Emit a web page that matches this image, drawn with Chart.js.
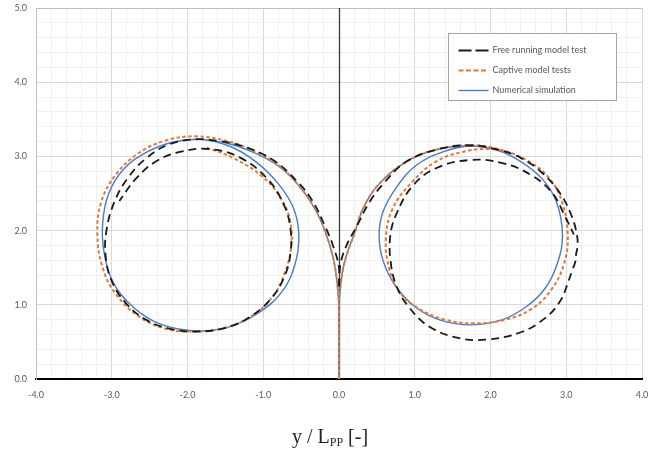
<!DOCTYPE html>
<html>
<head>
<meta charset="utf-8">
<script src="https://cdn.jsdelivr.net/npm/chart.js@4.4.1/dist/chart.umd.min.js"></script>
<style>
    html, body { margin: 0; padding: 0; background: #fff; }
    #wrap { position: relative; width: 651px; height: 456px; }
    #title {
        position: absolute; left: 0; top: 424px; width: 660px; text-align: center;
        font-family: 'Liberation Serif', 'DejaVu Serif', serif; font-size: 20px; line-height: 24px; color: #222;
    }
    #title sub { font-size: 12px; line-height: 0; vertical-align: -3px; }
</style>
</head>
<body>
<div id="wrap">
    <canvas id="turnGraph" width="651" height="456"></canvas>
    <div id="title">y / L<sub>PP</sub> [-]</div>
</div>
<script>
//globals
const seriesNames = ['Free running model test', 'Captive model tests', 'Numerical simulation'];

//free running, port turn
const freeLeftX = [0, 0, -0.08, -0.18, -0.35, -0.55, -0.87, -1.25, -1.6, -1.9, -2.25, -2.55, -2.78, -2.96, -3.07, -3.08, -3.0, -2.82, -2.55, -2.2, -1.85, -1.5, -1.17, -0.9, -0.72, -0.64, -0.64, -0.72, -0.93, -1.3, -1.72, -2.1, -2.42, -2.68, -2.9];
const freeLeftY = [1.25, 1.5, 1.8, 2.05, 2.4, 2.66, 2.95, 3.13, 3.21, 3.23, 3.16, 2.97, 2.72, 2.4, 2.0, 1.65, 1.32, 1.03, 0.8, 0.67, 0.64, 0.69, 0.84, 1.08, 1.38, 1.7, 2.02, 2.33, 2.68, 2.98, 3.1, 3.06, 2.93, 2.7, 2.4];
//free running, starboard turn
const freeRightX = [0, 0.02, 0.1, 0.23, 0.4, 0.6, 0.89, 1.28, 1.72, 2.1, 2.4, 2.68, 2.92, 3.07, 3.14, 3.15, 3.13, 3.12, 3.08, 3.03, 2.92, 2.72, 2.4, 1.94, 1.59, 1.2, 0.93, 0.76, 0.68, 0.68, 0.76, 0.97, 1.28, 1.72, 2.16, 2.55, 2.82, 2.98, 3.1];
const freeRightY = [1.25, 1.55, 1.8, 2.05, 2.38, 2.65, 2.93, 3.09, 3.15, 3.09, 2.98, 2.78, 2.5, 2.2, 1.95, 1.8, 1.68, 1.58, 1.47, 1.32, 1.05, 0.82, 0.63, 0.53, 0.55, 0.7, 0.96, 1.25, 1.6, 1.95, 2.23, 2.6, 2.84, 2.95, 2.91, 2.74, 2.5, 2.2, 1.95];

//captive tests
const captLeftX = [0, 0, 0, -0.02, -0.07, -0.17, -0.32, -0.55, -0.8, -1.1, -1.45, -1.9, -2.3, -2.65, -2.95, -3.14, -3.19, -3.12, -2.95, -2.65, -2.3, -1.95, -1.55, -1.2, -0.9, -0.72, -0.63, -0.65, -0.76, -1.0, -1.4, -1.75];
const captLeftY = [0, 0.5, 0.95, 1.25, 1.6, 1.95, 2.3, 2.63, 2.88, 3.06, 3.2, 3.27, 3.21, 3.04, 2.75, 2.38, 1.95, 1.5, 1.15, 0.85, 0.68, 0.64, 0.68, 0.82, 1.08, 1.42, 1.8, 2.15, 2.42, 2.72, 2.98, 3.12];
const captRightX = [0, 0, 0, 0.02, 0.08, 0.2, 0.32, 0.53, 0.89, 1.28, 1.72, 2.1, 2.51, 2.78, 2.94, 3.02, 2.97, 2.8, 2.55, 2.2, 1.78, 1.4, 1.05, 0.8, 0.66, 0.62, 0.71, 0.97, 1.28, 1.63, 1.99, 2.25];
const captRightY = [0, 0.5, 0.95, 1.25, 1.6, 1.95, 2.3, 2.63, 2.93, 3.09, 3.15, 3.1, 2.93, 2.7, 2.4, 1.95, 1.55, 1.2, 0.95, 0.8, 0.75, 0.8, 0.95, 1.17, 1.5, 1.9, 2.3, 2.66, 2.93, 3.06, 3.1, 3.05];

//numerical simulation
const simLeftX = [0, 0, 0, -0.02, -0.07, -0.17, -0.32, -0.55, -0.8, -1.1, -1.45, -1.84, -2.2, -2.55, -2.85, -3.04, -3.12, -3.1, -2.98, -2.75, -2.45, -2.1, -1.75, -1.4, -1.05, -0.75, -0.58, -0.53, -0.6, -0.8, -1.1, -1.45, -1.84, -2.1];
const simLeftY = [0, 0.5, 0.95, 1.25, 1.6, 1.95, 2.3, 2.63, 2.87, 3.04, 3.17, 3.23, 3.19, 3.05, 2.82, 2.5, 2.1, 1.7, 1.3, 1.0, 0.78, 0.67, 0.65, 0.72, 0.9, 1.18, 1.55, 1.94, 2.3, 2.63, 2.93, 3.14, 3.23, 3.21];
const simRightX = [0, 0, 0, 0.02, 0.08, 0.2, 0.32, 0.53, 0.89, 1.28, 1.72, 2.1, 2.4, 2.68, 2.87, 2.95, 2.88, 2.72, 2.48, 2.16, 1.75, 1.35, 1.02, 0.75, 0.58, 0.53, 0.58, 0.75, 1.02, 1.37, 1.72, 2.0];
const simRightY = [0, 0.5, 0.95, 1.25, 1.6, 1.95, 2.3, 2.63, 2.93, 3.09, 3.14, 3.08, 2.93, 2.7, 2.39, 1.94, 1.55, 1.22, 0.98, 0.8, 0.73, 0.79, 0.96, 1.25, 1.6, 1.94, 2.25, 2.57, 2.88, 3.06, 3.14, 3.11];

//axes
const xMin = -4, xMax = 4;
const yMin = 0, yMax = 5;
const minorStep = 0.2;

//styles per series
const styles = [
    { color: '#1a1a1a', width: 1.8, dash: [8, 5], legendDash: [13, 4] },
    { color: '#e07a3a', width: 2, dash: [3.5, 2.5], legendDash: [5, 2.5] },
    { color: '#4a7cc4', width: 1.4, dash: [], legendDash: [] }
];

document.addEventListener('DOMContentLoaded', () => {
    createGraph();
});

function toPoints(xs, ys) {
    return xs.map((x, i) => ({ x: x, y: ys[i] }));
}

function isMajor(v) {
    return Math.abs(v - Math.round(v)) < 1e-6;
}

function isZero(v) {
    return Math.abs(v) < 1e-6;
}

function makeDataset(series, xs, ys) {
    const s = styles[series];
    return {
        label: seriesNames[series],
        data: toPoints(xs, ys),
        showLine: true,
        borderColor: s.color,
        borderWidth: s.width,
        borderDash: s.dash,
        pointRadius: 0,
        tension: 0.4,
        fill: false
    };
}

//vertical axis line through x = 0, drawn over the grid
const zeroLine = {
    id: 'zeroLine',
    beforeDatasetsDraw(chart) {
        const ctx = chart.ctx;
        const area = chart.chartArea;
        const x = Math.round(chart.scales.x.getPixelForValue(0)) + 0.5;
        ctx.save();
        ctx.strokeStyle = '#3a3a3a';
        ctx.lineWidth = 1.3;
        ctx.beginPath();
        ctx.moveTo(x, area.top);
        ctx.lineTo(x, area.bottom);
        ctx.stroke();
        ctx.restore();
    }
};

//legend drawn inside the plot, with a frame
const legendBox = {
    id: 'legendBox',
    afterDatasetsDraw(chart) {
        const ctx = chart.ctx;
        const area = chart.chartArea;
        const left = area.right - 193.5;
        const top = area.top + 25.5;
        const w = 168, h = 67;
        ctx.save();
        ctx.fillStyle = '#fff';
        ctx.fillRect(left, top, w, h);
        ctx.setLineDash([]);
        ctx.strokeStyle = '#a6a6a6';
        ctx.lineWidth = 1;
        ctx.strokeRect(left, top, w, h);

        ctx.font = '9px Lato, "Open Sans", sans-serif';
        ctx.textBaseline = 'middle';
        seriesNames.forEach((name, i) => {
            const s = styles[i];
            const y = top + 17 + i * 20;
            ctx.beginPath();
            ctx.setLineDash(s.legendDash);
            ctx.strokeStyle = s.color;
            ctx.lineWidth = s.width;
            ctx.moveTo(left + 10, y);
            ctx.lineTo(left + 40, y);
            ctx.stroke();
            ctx.setLineDash([]);
            ctx.fillStyle = '#595959';
            ctx.fillText(name, left + 44, y);
        });
        ctx.restore();
    }
};

function createGraph() {
    const ctx = document.getElementById('turnGraph');

    new Chart(ctx, {
        type: 'scatter',
        data: {
            datasets: [
                makeDataset(0, freeLeftX, freeLeftY),
                makeDataset(0, freeRightX, freeRightY),
                makeDataset(1, captLeftX, captLeftY),
                makeDataset(1, captRightX, captRightY),
                makeDataset(2, simLeftX, simLeftY),
                makeDataset(2, simRightX, simRightY)
            ]
        },
        options: {
            responsive: false,
            animation: false,
            layout: { padding: { top: 8, right: 9, bottom: 0, left: 0 } },
            plugins: {
                legend: { display: false },
                tooltip: { enabled: false }
            },
            scales: {
                x: {
                    type: 'linear',
                    min: xMin,
                    max: xMax,
                    afterFit: (scale) => {
                        scale.height = 77;
                        scale.paddingLeft = 0;
                        scale.paddingRight = 0;
                    },
                    border: { color: '#000', width: 2 },
                    grid: {
                        drawTicks: false,
                        color: (c) => isMajor(c.tick.value) ? '#d9d9d9' : '#f0f0f0'
                    },
                    ticks: {
                        stepSize: minorStep,
                        autoSkip: false,
                        maxRotation: 0,
                        padding: 11,
                        color: '#595959',
                        font: { family: 'Lato', size: 9 },
                        callback: (v) => isMajor(v) ? v.toFixed(1) : ''
                    }
                },
                y: {
                    type: 'linear',
                    min: yMin,
                    max: yMax,
                    afterFit: (scale) => {
                        scale.width = 36;
                        scale.paddingTop = 0;
                        scale.paddingBottom = 0;
                    },
                    border: { color: '#bfbfbf', width: 1 },
                    grid: {
                        drawTicks: false,
                        color: (c) => isZero(c.tick.value) ? '#000' : (c.tick.value === yMax ? '#bfbfbf' : (isMajor(c.tick.value) ? '#d9d9d9' : '#f0f0f0'))
                    },
                    ticks: {
                        stepSize: minorStep,
                        autoSkip: false,
                        padding: 9,
                        color: '#595959',
                        font: { family: 'Lato', size: 9 },
                        callback: (v) => isMajor(v) ? v.toFixed(1) : ''
                    }
                }
            }
        },
        plugins: [zeroLine, legendBox]
    });
}
</script>
</body>
</html>
